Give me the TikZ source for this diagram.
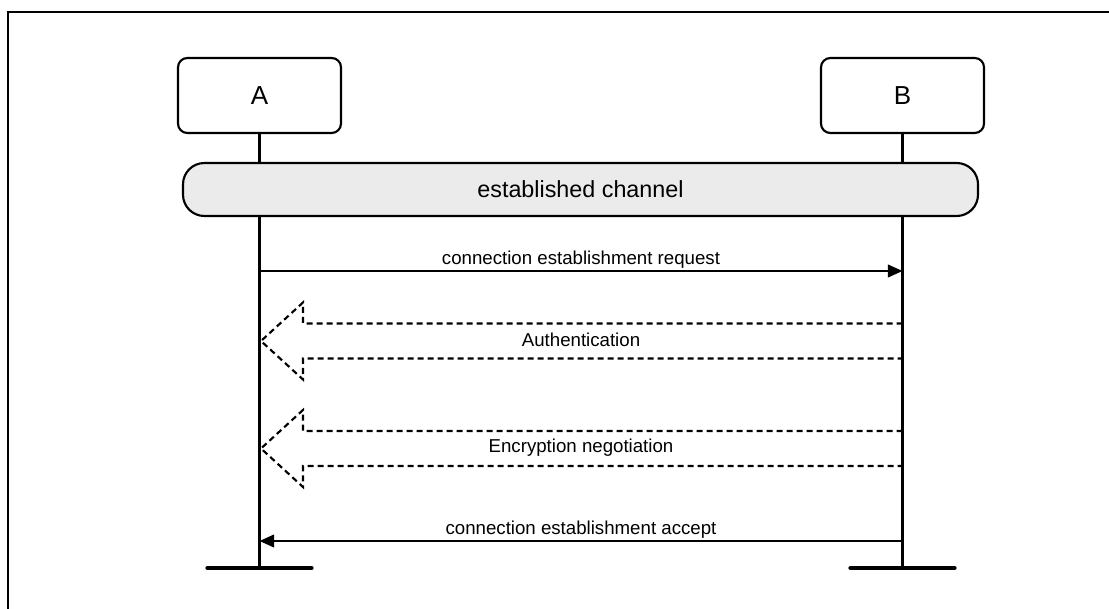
\documentclass[tikz,border=0pt]{standalone}
\usepackage{fontspec}
\setmainfont{Liberation Sans}
\usetikzlibrary{arrows.meta}
\definecolor{chanfill}{RGB}{235,235,235}
\begin{document}
\begin{tikzpicture}[x=0.75pt,y=-0.75pt,
  frame/.style={line width=1.7pt},
  actor/.style={draw, line width=1.6pt, rounded corners=7pt, minimum width=122.25pt, minimum height=56.25pt, inner sep=0pt, font=\fontsize{19.5}{23}\selectfont},
  channel/.style={draw, line width=1.6pt, fill=chanfill, rounded corners=16pt, minimum width=596.25pt, minimum height=39.75pt, inner sep=0pt, font=\fontsize{17.5}{21}\selectfont},
  lifeline/.style={line width=1.6pt},
  endbar/.style={line width=3.3pt, line cap=round},
  msg/.style={line width=1.6pt, -{Triangle[length=11pt,width=9.5pt]}},
  fatarrow/.style={line width=1.6pt, dash pattern=on 4.5pt off 3pt},
  lbl/.style={font=\fontsize{14}{17}\selectfont, inner sep=0pt}
]
\useasboundingbox (0,0) rectangle (1109,609);
\draw[frame] (8,609) -- (8,12) -- (1109,12);

\node[actor] (A) at (259.5,95.5) {A};
\node[actor] (B) at (902.5,95.5) {B};

\coordinate (Aend) at (259.5,568);
\coordinate (Bend) at (902.5,568);
\draw[lifeline] (A.south) -- (Aend);
\draw[lifeline] (B.south) -- (Bend);
\draw[endbar] ([xshift=-39pt]Aend) -- ([xshift=39pt]Aend);
\draw[endbar] ([xshift=-39pt]Bend) -- ([xshift=39pt]Bend);

\node[channel] (ch) at (580.5,189.5) {established channel};

% request
\coordinate (a1) at (259.5,271);
\coordinate (b1) at (902.5,271);
\draw[msg] (a1) -- (b1) node[lbl, midway, yshift=8.5pt] (l1) {connection establishment request};

% authentication
\coordinate (b2) at (902.5,341);
\draw[fatarrow] (b2) ++(0,-17.5) -- ++(-599.5,0) -- ++(0,-21) -- ++(-42,38.5) -- ++(42,38.5) -- ++(0,-21) -- ++(599.5,0) -- cycle;
\node[lbl] (l2) at (581,340) {Authentication};

% encryption
\coordinate (b3) at (902.5,448.5);
\draw[fatarrow] (b3) ++(0,-17.5) -- ++(-599.5,0) -- ++(0,-21) -- ++(-42,38.5) -- ++(42,38.5) -- ++(0,-21) -- ++(599.5,0) -- cycle;
\node[lbl] (l3) at (581,447.5) {Encryption negotiation};

% accept
\coordinate (a4) at (259.5,541);
\coordinate (b4) at (902.5,541);
\draw[msg] (b4) -- (a4) node[lbl, midway, yshift=8.5pt] (l4) {connection establishment accept};
\end{tikzpicture}
\end{document}
